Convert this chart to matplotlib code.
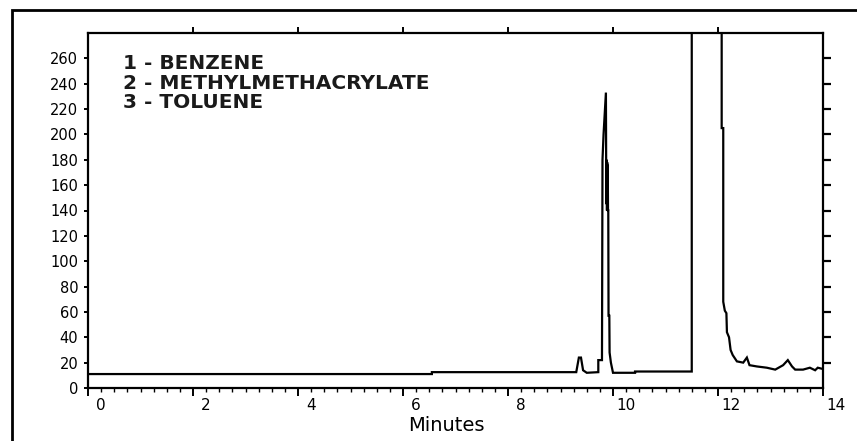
import matplotlib
matplotlib.use("Agg")
import matplotlib.pyplot as plt
from matplotlib.transforms import ScaledTranslation
from matplotlib.patches import Rectangle

# ---- data ----
time_min = [0.00, 6.55, 6.55, 9.30, 9.35, 9.39, 9.43, 9.50, 9.72, 9.72, 9.79,
            9.80, 9.82, 9.865, 9.87, 9.875, 9.88, 9.885, 9.89, 9.895, 9.90,
            9.905, 9.91, 9.915, 9.93, 9.935, 9.96, 10.00, 10.42, 10.42, 11.50,
            11.50, 12.07, 12.07, 12.10, 12.10, 12.13, 12.16, 12.17, 12.21,
            12.24, 12.28, 12.36, 12.48, 12.55, 12.60, 12.74, 12.93, 13.09,
            13.24, 13.33, 13.41, 13.47, 13.62, 13.75, 13.85, 13.90, 14.00]
signal = [11.0, 11.0, 12.5, 12.5, 24.0, 24.0, 14.0, 12.0, 12.5, 22.0, 22.0,
          180.0, 200.0, 233.0, 175.0, 145.0, 180.0, 140.0, 178.0, 142.0, 176.0,
          140.0, 140.0, 57.0, 57.0, 28.0, 20.0, 12.0, 12.0, 13.0, 13.0,
          300.0, 300.0, 205.0, 205.0, 68.0, 61.0, 59.0, 44.0, 40.0,
          30.0, 26.0, 21.0, 20.0, 24.0, 18.0, 17.0, 16.0, 14.5,
          18.0, 22.0, 17.0, 14.5, 14.5, 16.0, 14.0, 16.0, 15.0]

legend_lines = ["1 - BENZENE", "2 - METHYLMETHACRYLATE", "3 - TOLUENE"]
legend_y = [256, 240, 225]

x_ticks = [0, 2, 4, 6, 8, 10, 12, 14]
x_top_ticks = [2, 4, 6, 8, 10, 12]
y_ticks = [0, 20, 40, 60, 80, 100, 120, 140, 160, 180, 200, 220, 240, 260]
y_right_ticks = y_ticks[1:]

W, H = 857, 441
fig = plt.figure(figsize=(W / 100, H / 100), dpi=100)
ax = fig.add_axes([88 / W, 1 - 388 / H, (823 - 88) / W, (388 - 33) / H])

ax.plot(time_min, signal, color="black", lw=1.6, solid_joinstyle="miter")
ax.set_xlim(0, 14)
ax.set_ylim(0, 280)

for s in ax.spines.values():
    s.set_linewidth(1.6)

ax.set_xticks(x_ticks)
ax.set_xticklabels([str(v) for v in x_ticks])
ax.set_xticks([i * 0.25 for i in range(57)], minor=True)
ax.tick_params(axis="x", which="major", direction="out", length=6, width=1.4,
               labelsize=11, pad=1)
ax.tick_params(axis="x", which="minor", direction="out", length=3, width=1.0)
offset = ScaledTranslation(13 / 100, 0, fig.dpi_scale_trans)
for lab in ax.get_xticklabels():
    lab.set_transform(lab.get_transform() + offset)

ax.set_yticks(y_ticks)
ax.set_yticklabels([str(v) for v in y_ticks])
ax.tick_params(axis="y", direction="out", length=3, width=1.4, labelsize=10.5,
               pad=4)

ax2 = ax.twinx()
ax2.set_ylim(0, 280)
ax2.set_yticks(y_right_ticks)
ax2.tick_params(axis="y", direction="out", length=6, width=1.6,
                labelright=False)
for s in ax2.spines.values():
    s.set_visible(False)

ax3 = ax.twiny()
ax3.set_xlim(0, 14)
ax3.set_xticks(x_top_ticks)
ax3.tick_params(axis="x", direction="out", length=4, width=1.4,
                labeltop=False)
for s in ax3.spines.values():
    s.set_visible(False)

ax.set_xlabel("Minutes", fontsize=14)
ax.xaxis.set_label_coords(0.487, -0.08)

for txt, yv in zip(legend_lines, legend_y):
    ax.text(0.67, yv, txt, fontsize=14.5, fontweight="bold", va="center",
            ha="left", color="#1a1a1a")

fig.add_artist(Rectangle((12 / W, -0.05), 1.2, 1 - 10 / H + 0.05,
                         transform=fig.transFigure, fill=False,
                         edgecolor="black", lw=2))

fig.savefig("out.png", dpi=100)
